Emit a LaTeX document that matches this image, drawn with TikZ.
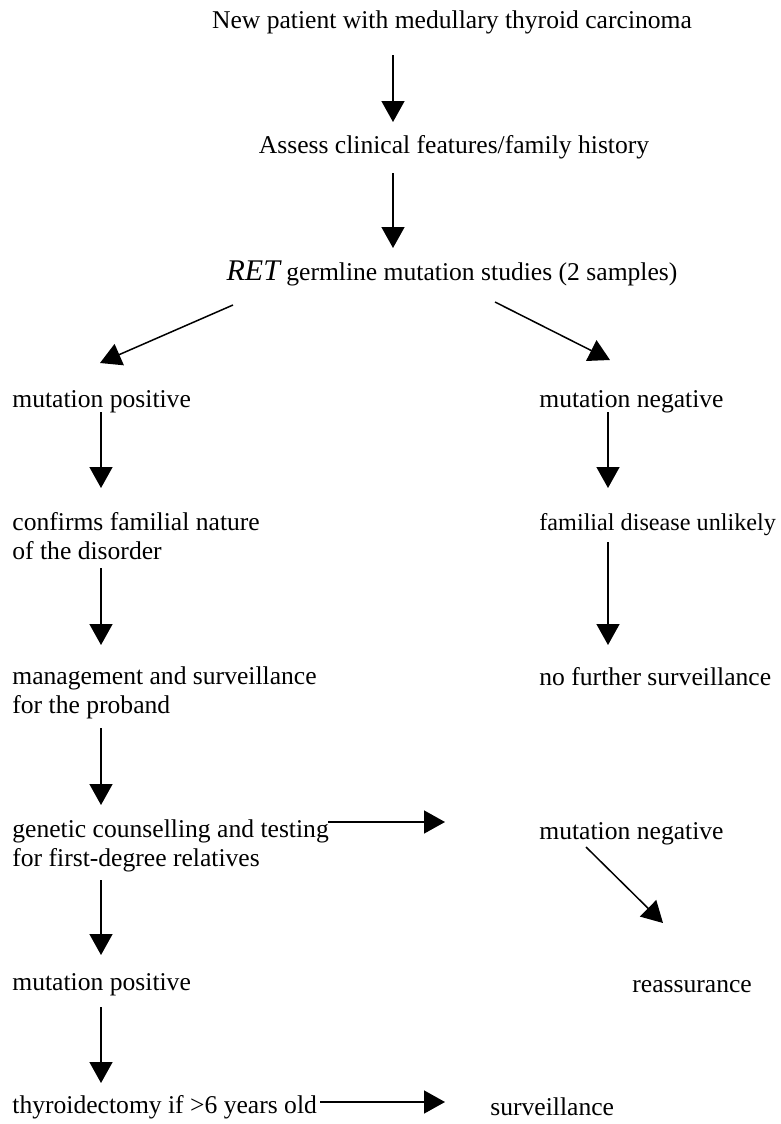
\documentclass[tikz,border=0pt]{standalone}
\usepackage{fontspec}
\setmainfont{Liberation Serif}
\usetikzlibrary{arrows.meta,calc}

\begin{document}
\begin{tikzpicture}[x=0.5pt,y=-0.5pt,
  >={Triangle[length=10.5pt,width=11.5pt]},
  txt/.style={inner sep=0pt,anchor=base west,align=left,
    font=\fontsize{12.8}{14.5}\selectfont},
  ctr/.style={txt,anchor=base},
  arr/.style={->,line width=0.75pt}]

\useasboundingbox (0,0) rectangle (781,1124);

% columns the arrows run down
\coordinate (spine) at (393,0);
\coordinate (lcol)  at (101,0);
\coordinate (rcol)  at (608,0);

%% ---- top chain -------------------------
\node[ctr] (new)    at (452,28)  {New patient with medullary thyroid carcinoma};
\node[ctr] (assess) at (454,153) {Assess clinical features/family history};
\node[ctr] (ret)    at (452,280)
  {{\fontsize{15}{15}\selectfont\itshape RET} germline mutation studies (2 samples)};

\draw[arr] ($(new.base -| spine)+(0,27)$)    -- ($(assess.base -| spine)+(0,-31)$);
\draw[arr] ($(assess.base -| spine)+(0,20)$) -- ($(ret.base -| spine)+(0,-32)$);

%% ---- left branch: mutation positive ----
% two-line nodes sit on the baseline of their last line
\node[txt] (pos1)    at (12,407)  {mutation positive};
\node[txt] (confirm) at (12,559)  {confirms familial nature\\of the disorder};
\node[txt] (manage)  at (12,713)  {management and surveillance\\for the proband};
\node[txt] (genetic) at (12,866)  {genetic counselling and testing\\for first-degree relatives};
\node[txt] (pos2)    at (12,990)  {mutation positive};
\node[txt] (thyroid) at (12,1113) {thyroidectomy if >6 years old};

\draw[arr] ($(ret.base)+(-219,25)$) -- ($(pos1.base west)+(88,-44)$);
\draw[arr] ($(pos1.base -| lcol)+(0,5)$)     -- ($(confirm.base -| lcol)+(0,-71)$);
\draw[arr] ($(confirm.base -| lcol)+(0,9)$)  -- ($(manage.base -| lcol)+(0,-68)$);
\draw[arr] ($(manage.base -| lcol)+(0,15)$)  -- ($(genetic.base -| lcol)+(0,-61)$);
\draw[arr] ($(genetic.base -| lcol)+(0,14)$) -- ($(pos2.base -| lcol)+(0,-35)$);
\draw[arr] ($(pos2.base -| lcol)+(0,17)$)    -- ($(thyroid.base -| lcol)+(0,-30)$);

%% ---- right branch: mutation negative ---
\node[txt] (neg1)      at (539,407)  {mutation negative};
\node[txt,font=\fontsize{12.1}{14.5}\selectfont]
           (unlikely)  at (539,530)  {familial disease unlikely};
\node[txt] (nofurther) at (539,685)  {no further surveillance};
\node[txt] (neg2)      at (539,839)  {mutation negative};
\node[txt] (reassure)  at (632,992)  {reassurance};
\node[txt] (surv)      at (490,1115) {surveillance};

\draw[arr] ($(ret.base)+(43,22)$) -- ($(neg1.base west)+(71,-47)$);
\draw[arr] ($(neg1.base -| rcol)+(0,5)$)      -- ($(unlikely.base -| rcol)+(0,-42)$);
\draw[arr] ($(unlikely.base -| rcol)+(0,12)$) -- ($(nofurther.base -| rcol)+(0,-40)$);

% relatives tested, then the proband's relatives
\draw[arr] ($(genetic.base west)+(316,-44)$) -- ($(neg2.base west)+(-94,-17)$);
\draw[arr] ($(neg2.base west)+(47,8)$)       -- ($(reassure.base west)+(31,-69)$);
\draw[arr] ($(thyroid.base west)+(308,-11)$) -- ($(surv.base west)+(-45,-13)$);

\end{tikzpicture}
\end{document}
